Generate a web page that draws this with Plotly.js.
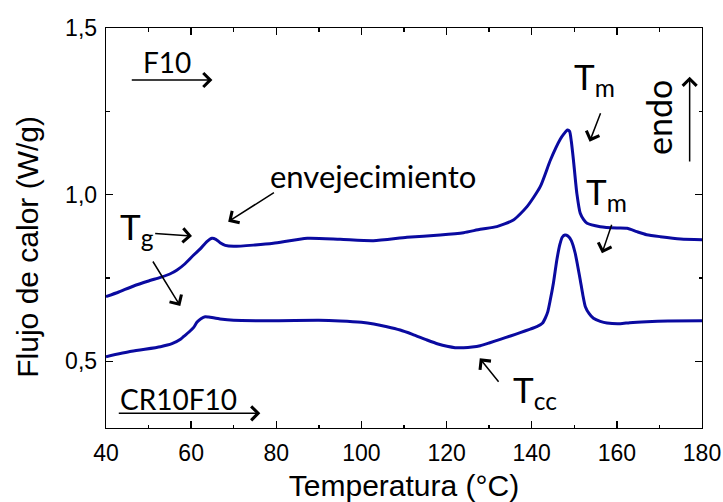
<!DOCTYPE html>
<html>
<head>
<meta charset="utf-8">
<script src="https://cdn.plot.ly/plotly-3.0.1.min.js"></script>
<style>html,body{margin:0;padding:0;background:#fff;}#chart{width:723px;height:502px;}</style>
</head>
<body>
<div id="chart"></div>
<script>
// F10 curve (upper)
const tempF10 = [40, 43, 46.5, 50, 52.8, 55, 56.7, 58.5, 60.6, 62.2, 63.7, 64.9, 65.8, 66.8, 68, 70, 75, 79.3, 87.3, 95, 102.8, 110.7, 118.5, 124, 127.9, 131.8, 135.7, 138.9, 142, 144.4, 146.7, 147.6, 148.4, 148.9, 149.3, 149.8, 150.6, 151.4, 152.2, 153, 156.1, 160, 162.4, 164.7, 167, 170.2, 175, 180];
const flujoF10 = [0.694, 0.708, 0.726, 0.741, 0.752, 0.762, 0.774, 0.792, 0.819, 0.838, 0.859, 0.869, 0.866, 0.856, 0.848, 0.845, 0.849, 0.854, 0.869, 0.866, 0.862, 0.872, 0.879, 0.886, 0.896, 0.904, 0.924, 0.964, 1.024, 1.104, 1.166, 1.183, 1.194, 1.19, 1.16, 1.104, 1.004, 0.944, 0.925, 0.914, 0.904, 0.900, 0.899, 0.889, 0.880, 0.874, 0.867, 0.865];
// CR10F10 curve (lower)
const tempCR = [40, 46, 52.8, 55.5, 57.5, 58.2, 59.5, 60.6, 61.4, 62.3, 63.3, 64.1, 66.8, 70, 80, 90, 95, 100, 102.9, 106, 109.1, 112, 115.4, 118, 120.1, 122, 124, 126, 127.9, 130, 132.6, 135, 137.3, 139.5, 141.2, 142.5, 143.2, 143.8, 144.3, 145.1, 145.9, 146.6, 147.2, 147.8, 148.5, 149.3, 150.2, 150.8, 151.4, 152, 152.6, 153.5, 154.5, 156.1, 157.7, 160.8, 163, 167, 172, 180];
const flujoCR = [0.514, 0.530, 0.544, 0.553, 0.566, 0.574, 0.588, 0.602, 0.618, 0.628, 0.634, 0.633, 0.627, 0.623, 0.622, 0.623, 0.621, 0.617, 0.612, 0.604, 0.594, 0.581, 0.564, 0.552, 0.545, 0.541, 0.541, 0.543, 0.547, 0.555, 0.566, 0.576, 0.586, 0.596, 0.604, 0.614, 0.630, 0.650, 0.680, 0.735, 0.804, 0.850, 0.873, 0.879, 0.876, 0.862, 0.825, 0.786, 0.744, 0.700, 0.664, 0.643, 0.629, 0.620, 0.615, 0.613, 0.616, 0.619, 0.621, 0.622];

const xTicks = [40, 60, 80, 100, 120, 140, 160, 180];
const yTicks = [0.5, 1.0, 1.5];

const lineColor = '#0a0aa0';
const traces = [
  {x: tempF10, y: flujoF10, name: 'F10', mode: 'lines', line: {color: lineColor, width: 3, shape: 'spline', smoothing: 0.6}},
  {x: tempCR, y: flujoCR, name: 'CR10F10', mode: 'lines', line: {color: lineColor, width: 3, shape: 'spline', smoothing: 0.6}}
];

const annFont = {family: 'Lato, "Open Sans", sans-serif', color: '#000'};
const sansFont = '"Liberation Sans", Arial, sans-serif';
function label(text, x, y, size, extra) {
  return Object.assign({text: text, x: x, y: y, xref: 'x', yref: 'y', showarrow: false,
    xanchor: 'center', yanchor: 'middle', font: Object.assign({}, annFont, {size: size})}, extra || {});
}
function arrow(ax, ay, x, y) {
  return {text: '', x: x, y: y, ax: ax, ay: ay, xref: 'x', yref: 'y', axref: 'x', ayref: 'y',
    showarrow: true, arrowhead: 4, arrowsize: 1.8, arrowwidth: 1.5, arrowcolor: '#000', standoff: 0, startstandoff: 0};
}

const annotations = [
  label('F10', 54.3, 1.398, 28),
  arrow(45.7, 1.344, 65.0, 1.344),
  label('CR10F10', 57.1, 0.3875, 28),
  arrow(42.65, 0.344, 76.25, 0.344),
  label('T<sub>g</sub>', 47.3, 0.900, 35),
  arrow(51.2, 0.884, 60.2, 0.876),
  arrow(50.8, 0.804, 57.45, 0.666),
  label('envejecimiento', 102.7, 1.056, 31),
  arrow(79.8, 1.009, 68.7, 0.919),
  label('T<sub>m</sub>', 154.8, 1.350, 35),
  arrow(156.3, 1.249, 153.6, 1.159),
  label('T<sub>m</sub>', 157.5, 1.004, 35),
  arrow(158.9, 0.914, 156.5, 0.824),
  label('T<sub>cc</sub>', 140.8, 0.409, 35),
  arrow(132.5, 0.434, 127.8, 0.509),
  label('endo', 169.8, 1.232, 34, {textangle: -90}),
  arrow(177.1, 1.095, 177.1, 1.354),
  // y-axis title (placed as annotation to match reference position)
  {text: 'Flujo de calor (W/g)', xref: 'paper', yref: 'paper', x: -0.132, y: 0.454,
    xanchor: 'center', yanchor: 'middle', textangle: -90, showarrow: false,
    font: {family: sansFont, size: 30, color: '#000'}}
];

const axisCommon = {
  showline: true, linecolor: '#000', linewidth: 1.3, mirror: 'ticks',
  ticks: 'inside', ticklen: 7, tickwidth: 1.3, tickcolor: '#000',
  showgrid: false, zeroline: false,
  tickfont: {family: sansFont, size: 23, color: '#000'}
};

const layout = {
  width: 723, height: 502,
  margin: {l: 106, r: 21, t: 28, b: 74},
  paper_bgcolor: '#fff', plot_bgcolor: '#fff',
  separators: ',.',
  showlegend: false,
  xaxis: Object.assign({}, axisCommon, {
    range: [40, 180], tickvals: xTicks, ticktext: xTicks.map(String),
    ticklabelstandoff: 4,
    minor: {ticks: 'inside', ticklen: 3.5, tickwidth: 1.3, tickcolor: '#000', dtick: 10, tick0: 40, showgrid: false},
    title: {text: 'Temperatura (°C)', font: {family: sansFont, size: 30, color: '#000'}, standoff: 14}
  }),
  yaxis: Object.assign({}, axisCommon, {
    range: [0.3, 1.5], tickvals: yTicks, tickformat: '.1f',
    ticklabelstandoff: 3,
    minor: {ticks: 'inside', ticklen: 3.5, tickwidth: 1.3, tickcolor: '#000', dtick: 0.25, tick0: 0.5, showgrid: false}
  }),
  annotations: annotations
};

Plotly.newPlot('chart', traces, layout, {displayModeBar: false, staticPlot: true});
</script>
</body>
</html>
